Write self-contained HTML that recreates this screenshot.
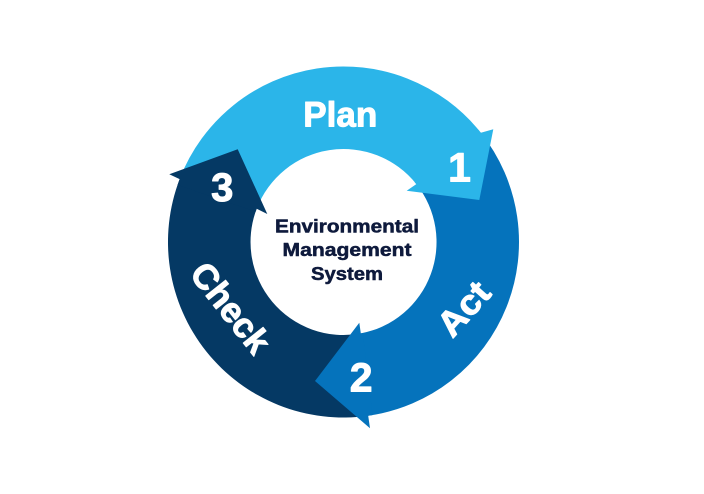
<!DOCTYPE html>
<html>
<head>
<meta charset="utf-8">
<style>
  html, body { margin: 0; padding: 0; background: #ffffff; }
  body { width: 704px; height: 494px; overflow: hidden; }
  svg { display: block; }
  text { font-family: "Liberation Sans", "DejaVu Sans", sans-serif; font-weight: bold; }
</style>
</head>
<body>
<svg width="704" height="494" viewBox="0 0 704 494" xmlns="http://www.w3.org/2000/svg">
  <rect x="0" y="0" width="704" height="494" fill="#ffffff"/>

  <!-- bands -->
  <path d="M 179.65 179.1 A 175.5 175.5 0 0 1 480.85 132.75 L 416.3 184.1 A 93 93 0 0 0 256.7 208.7 Z" fill="#2BB5E9"/>
  <path d="M 480.85 132.75 A 175.5 175.5 0 0 1 368.2 415.75 L 360.8 333.4 A 93 93 0 0 0 416.3 184.1 Z" fill="#0573BC"/>
  <path d="M 368.2 415.75 A 175.5 175.5 0 0 1 179.65 179.1 L 256.7 208.7 A 93 93 0 0 0 360.8 333.4 Z" fill="#053964"/>

  <!-- arrowheads -->
  <polygon points="480.85,132.75 493.3,129.3 479.3,200 406.7,190.7 416.3,184.1 414.7,182.2 477.9,129.2" fill="#2BB5E9"/>
  <polygon points="368.2,415.75 370,428.3 315,381 359.3,322.7 360.8,333.4 362.8,333.0 372.5,415.1" fill="#0573BC"/>
  <polygon points="179.65,179.1 169.3,174.3 237.7,149.3 267.3,214 256.7,208.7 255.6,211.7 177.6,184.9" fill="#053964"/>

  <!-- labels -->
  <g fill="#ffffff" stroke="#ffffff" stroke-width="1" stroke-linejoin="round">
    <text x="340.3" y="126.7" text-anchor="middle" font-size="35" textLength="74" lengthAdjust="spacingAndGlyphs">Plan</text>

    <g transform="translate(463.3,308.3) rotate(-48)">
      <text x="0" y="12.5" text-anchor="middle" font-size="35" textLength="60" lengthAdjust="spacingAndGlyphs">Act</text>
    </g>

    <g transform="translate(231,307.5) rotate(51.5)">
      <text x="0" y="12.5" text-anchor="middle" font-size="35" textLength="105" lengthAdjust="spacingAndGlyphs">Check</text>
    </g>

    <text x="459.5" y="181.7" text-anchor="middle" font-size="41">1</text>
    <text x="361.2" y="391.7" text-anchor="middle" font-size="41">2</text>
    <text x="222.3" y="201" text-anchor="middle" font-size="40">3</text>
  </g>

  <!-- center text -->
  <g fill="#0e1a3c" stroke="#0e1a3c" stroke-width="0.5" stroke-linejoin="round">
    <text x="347" y="232.3" text-anchor="middle" font-size="18" textLength="144" lengthAdjust="spacingAndGlyphs">Environmental</text>
    <text x="347" y="256" text-anchor="middle" font-size="18" textLength="129" lengthAdjust="spacingAndGlyphs">Management</text>
    <text x="347" y="280" text-anchor="middle" font-size="18" textLength="72" lengthAdjust="spacingAndGlyphs">System</text>
  </g>
</svg>
</body>
</html>
